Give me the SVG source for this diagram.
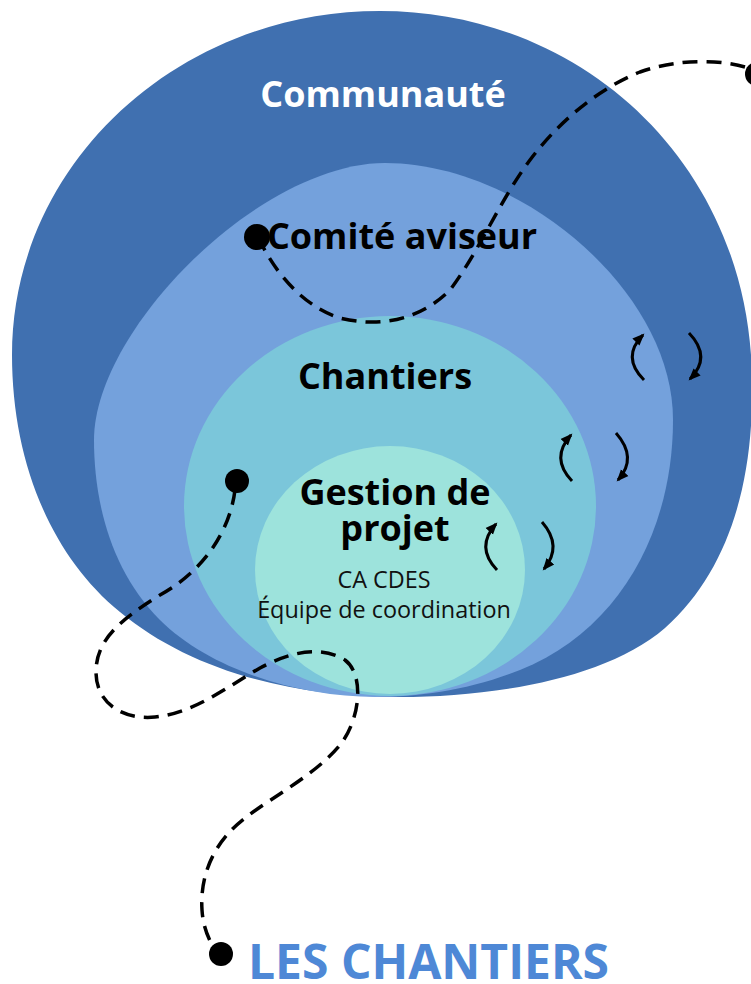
<svg xmlns="http://www.w3.org/2000/svg" width="751" height="984" viewBox="0 0 751 984">
<style>
.t{font-family:"Open Sans","Noto Sans",sans-serif;text-anchor:middle}
.b{font-weight:bold;font-size:36px}
.r{font-size:23.4px;fill:#111}
.dash{fill:none;stroke:#000;stroke-width:3.5;stroke-dasharray:15 9}
.rot{fill:none;stroke:#000;stroke-width:3}
</style>
<defs>
<marker id="ah" markerUnits="userSpaceOnUse" markerWidth="14" markerHeight="12" refX="10" refY="6" orient="auto">
<path d="M0,1 L12,6 L0,11 Z" fill="#000"/>
</marker>
</defs>
<g id="communaute">
<path fill="#4070B0" d="M12 355 C12 165 177 11 380 11 C583 11 750 165 752 380 C754 480 730 570 665 628 C605 680 490 697 400 697 C290 697 190 670 120 612 C50 555 12 460 12 355 Z"/>
<text class="t b" x="383" y="107" fill="#fff">Communauté</text>
</g>
<g id="comite">
<path fill="#74A1DC" d="M94 440 C94 330 260 163 385 163 C520 163 673 290 673 420 C673 530 620 630 520 670 C470 690 420 697 375 697 C300 697 210 670 160 620 C110 570 94 500 94 440 Z"/>
<text class="t b" x="402" y="249" fill="#000">Comité aviseur</text>
</g>
<g id="chantiers">
<ellipse cx="390" cy="506" rx="206" ry="190" fill="#7BC6DA"/>
<text class="t b" x="385" y="389" fill="#000">Chantiers</text>
</g>
<g id="gestion">
<ellipse cx="390" cy="570" rx="135" ry="124" fill="#9DE3DC"/>
<text class="t b" x="395" y="505" fill="#000">Gestion de</text>
<text class="t b" x="395" y="541" fill="#000">projet</text>
<text class="t r" x="384" y="588">CA CDES</text>
<text class="t r" x="384" y="618">Équipe de coordination</text>
</g>
<g id="connectors">
<path class="dash" d="M745 67 C720 60 680 58 640 72 C600 88 560 120 530 160 C500 200 480 250 450 290 C420 320 380 328 340 318 C300 305 275 270 262 245"/>
<circle cx="757" cy="74" r="12" fill="#000"/>
<circle cx="257" cy="237" r="13" fill="#000"/>
<path class="dash" d="M235 490 C230 530 205 570 160 595 C120 620 96 640 96 672 C96 705 125 720 155 717 C195 713 230 685 260 668 C290 652 320 645 345 660 C365 675 360 720 340 745 C315 775 275 795 245 818 C210 845 200 880 202 910 C203 925 207 935 212 945"/>
<circle cx="237" cy="481" r="12" fill="#000"/>
<circle cx="221" cy="954" r="12" fill="#000"/>
<g id="rotations">
<path class="rot" marker-end="url(#ah)" d="M644 380 Q621 357 643 335"/>
<path class="rot" marker-end="url(#ah)" d="M689 333 Q712 357 690 379"/>
<path class="rot" marker-end="url(#ah)" d="M572 481 Q550 458 571 435"/>
<path class="rot" marker-end="url(#ah)" d="M616 433 Q638 458 618 480"/>
<path class="rot" marker-end="url(#ah)" d="M497 570 Q475 547 496 524"/>
<path class="rot" marker-end="url(#ah)" d="M542 522 Q563 546 544 569"/>
</g>
</g>
<text id="titre" x="248" y="979" font-family="'Open Sans','Noto Sans',sans-serif" font-weight="bold" font-size="48" fill="#4E88D6">LES CHANTIERS</text>
</svg>
